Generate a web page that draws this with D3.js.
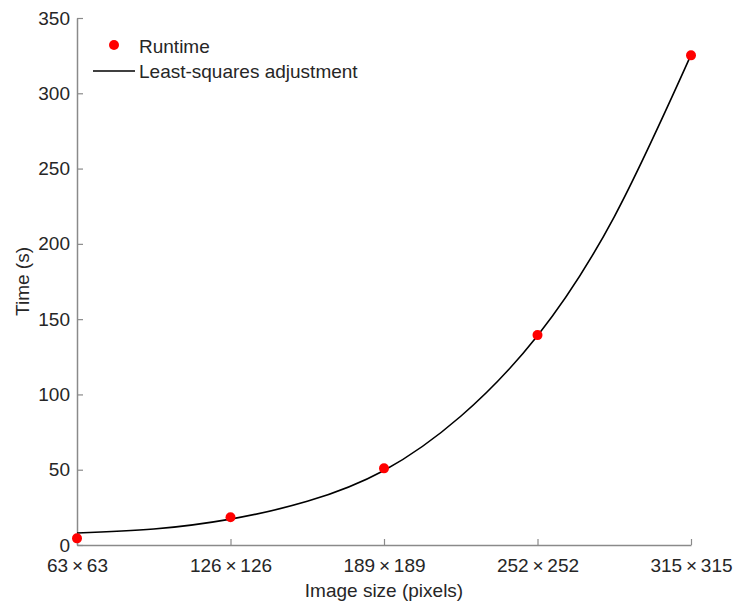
<!DOCTYPE html>
<html>
<head>
<meta charset="utf-8">
<script src="https://cdn.jsdelivr.net/npm/d3@7"></script>
<style>
  body { margin: 0; background: #fff; }
  text { font-family: "Liberation Sans", Arial, sans-serif; }
</style>
</head>
<body>
<div id="chart"></div>
<script>
// runtime measurements
const sizes = [63, 126, 189, 252, 315]
const runtime = [4.4, 18.4, 50.9, 139.4, 325.2]

// least-squares curve
const fitSizes = [63, 94.5, 126, 157.5, 189, 220.5, 252, 283.5, 315]
const fitTime = [8.0, 10.6, 17.2, 29.0, 49.5, 85.5, 139.0, 218.0, 325.5]

const yTicks = [0, 50, 100, 150, 200, 250, 300, 350]

const width = 734
const height = 603
const fontSize = '19px'

const svg = d3.select('#chart')
    .append('svg')
    .attr('width', width)
    .attr('height', height)

const xScale = d3.scaleLinear()
    .domain([63, 315])
    .range([77, 691])

const yScale = d3.scaleLinear()
    .domain([0, 350])
    .range([545, 18])

const axisColor = '#8a8a8a'
const textColor = '#262626'

// axes
const xAxis = d3.axisBottom(xScale)
    .tickValues(sizes)
    .tickFormat(d => d + '\u2009×\u2009' + d)
    .tickSizeInner(-6)
    .tickSizeOuter(0)
    .tickPadding(14)

const yAxis = d3.axisLeft(yScale)
    .tickValues(yTicks)
    .tickSizeInner(-6)
    .tickSizeOuter(0)
    .tickPadding(7)

const xAxisGroup = svg.append('g')
    .attr('transform', `translate(0, ${yScale(0)})`)
    .call(xAxis)

const yAxisGroup = svg.append('g')
    .attr('transform', `translate(${xScale(63)}, 0)`)
    .call(yAxis)

;[xAxisGroup, yAxisGroup].forEach(g => {
    g.select('.domain').attr('stroke', axisColor).attr('stroke-width', 1.5)
    g.selectAll('.tick line').attr('stroke', axisColor).attr('stroke-width', 1.2)
    g.selectAll('.tick text')
        .attr('fill', textColor)
        .style('font-size', fontSize)
        .style('font-family', '"Liberation Sans", Arial, sans-serif')
})

// labels
svg.append('text')
    .attr('x', 384)
    .attr('y', 597)
    .attr('text-anchor', 'middle')
    .attr('fill', textColor)
    .style('font-size', fontSize)
    .text('Image size (pixels)')

svg.append('text')
    .attr('transform', `translate(29, ${(yScale(0) + yScale(350)) / 2}) rotate(-90)`)
    .attr('text-anchor', 'middle')
    .attr('fill', textColor)
    .style('font-size', fontSize)
    .text('Time (s)')

// fit curve
const line = d3.line()
    .x((d, i) => xScale(fitSizes[i]))
    .y(d => yScale(d))
    .curve(d3.curveNatural)

svg.append('path')
    .datum(fitTime)
    .attr('d', line)
    .attr('fill', 'none')
    .attr('stroke', '#000')
    .attr('stroke-width', 1.6)

// runtime points
svg.append('g')
    .selectAll('circle')
    .data(runtime)
    .join('circle')
    .attr('cx', (d, i) => xScale(sizes[i]))
    .attr('cy', d => yScale(d))
    .attr('r', 5)
    .attr('fill', '#ff0000')

// legend
const legend = svg.append('g')

legend.append('circle')
    .attr('cx', 114)
    .attr('cy', 45)
    .attr('r', 5)
    .attr('fill', '#ff0000')

legend.append('text')
    .attr('x', 139)
    .attr('y', 53)
    .attr('fill', textColor)
    .style('font-size', fontSize)
    .text('Runtime')

legend.append('line')
    .attr('x1', 93)
    .attr('x2', 135)
    .attr('y1', 71)
    .attr('y2', 71)
    .attr('stroke', '#000')
    .attr('stroke-width', 1.6)

legend.append('text')
    .attr('x', 139)
    .attr('y', 78)
    .attr('fill', textColor)
    .style('font-size', fontSize)
    .text('Least-squares adjustment')
</script>
</body>
</html>
